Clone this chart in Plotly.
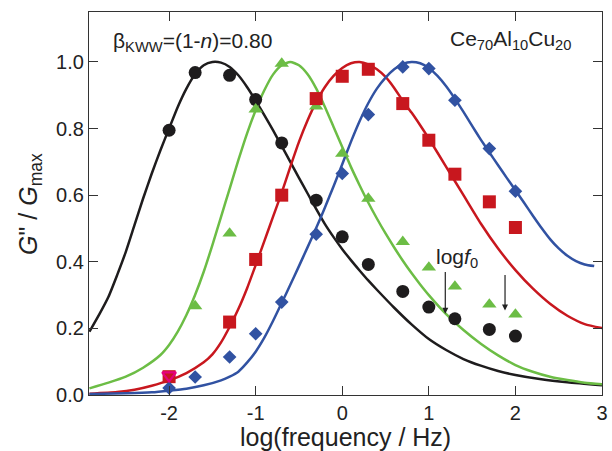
import numpy as np
import plotly.graph_objects as go

# ---- measured data (log10 frequency / Hz) ----
freq_all = [0.01, 0.02, 0.05, 0.1, 0.2, 0.5, 1, 2, 5, 10, 20, 50, 100]
black_y = [0.795, 0.968, 0.960, 0.887, 0.757, 0.585, 0.475, 0.392, 0.311, 0.264, 0.229, 0.197, 0.177]

freq_green = [0.02, 0.05, 0.1, 0.2, 0.5, 1, 2, 5, 10, 20, 50, 100]
green_y = [0.267, 0.485, 0.858, 0.995, 0.867, 0.725, 0.590, 0.460, 0.383, 0.326, 0.272, 0.242]

freq_red = [0.01, 0.05, 0.1, 0.2, 0.5, 1, 2, 5, 10, 20, 50, 100]
red_y = [0.055, 0.219, 0.407, 0.600, 0.890, 0.957, 0.978, 0.875, 0.765, 0.663, 0.580, 0.503]

freq_blue = freq_all
blue_y = [0.021, 0.054, 0.114, 0.184, 0.279, 0.483, 0.665, 0.842, 0.985, 0.980, 0.885, 0.740, 0.612]

freq_open = [0.01]
open_y = [0.059]

# ---- fitted curves ----
black_cx = [-2.92, -2.8, -2.7, -2.6, -2.5, -2.4, -2.3, -2.2, -2.1, -2.0, -1.9, -1.8, -1.7, -1.6,
            -1.5, -1.4, -1.3, -1.2, -1.1, -1.0, -0.9, -0.8, -0.7, -0.6, -0.5, -0.4, -0.3, -0.2,
            -0.1, 0.0, 0.1, 0.2, 0.3, 0.4, 0.6, 0.8, 1.0, 1.2, 1.4, 1.6, 1.8, 2.0, 2.3, 2.6, 3.0]
black_cy = [0.190, 0.245, 0.295, 0.360, 0.430, 0.510, 0.590, 0.665, 0.735, 0.800, 0.865, 0.920,
            0.963, 0.990, 1.000, 0.998, 0.985, 0.960, 0.925, 0.884, 0.840, 0.795, 0.748, 0.700,
            0.652, 0.605, 0.558, 0.513, 0.474, 0.438, 0.405, 0.374, 0.344, 0.316, 0.262, 0.212,
            0.168, 0.135, 0.108, 0.088, 0.072, 0.060, 0.047, 0.038, 0.029]

green_cx = [-2.92, -2.7, -2.5, -2.3, -2.1, -2.0, -1.9, -1.8, -1.7, -1.6, -1.5, -1.4, -1.3, -1.2,
            -1.1, -1.0, -0.9, -0.8, -0.7, -0.6, -0.5, -0.4, -0.3, -0.2, -0.1, 0.0, 0.1, 0.2, 0.3,
            0.4, 0.5, 0.6, 0.7, 0.8, 0.9, 1.0, 1.2, 1.4, 1.6, 1.8, 2.0, 2.2, 2.4, 2.6, 2.8, 3.0]
green_cy = [0.020, 0.037, 0.055, 0.082, 0.120, 0.150, 0.190, 0.240, 0.300, 0.370, 0.450, 0.535,
            0.620, 0.705, 0.785, 0.855, 0.915, 0.962, 0.990, 1.000, 0.990, 0.963, 0.920, 0.865,
            0.805, 0.745, 0.685, 0.630, 0.578, 0.530, 0.485, 0.443, 0.403, 0.366, 0.332, 0.300,
            0.243, 0.195, 0.154, 0.119, 0.090, 0.070, 0.055, 0.045, 0.037, 0.032]

red_cx = [-2.92, -2.6, -2.4, -2.2, -2.0, -1.8, -1.6, -1.5, -1.4, -1.3, -1.2, -1.1, -1.0, -0.9,
          -0.8, -0.7, -0.6, -0.5, -0.4, -0.3, -0.2, -0.1, 0.0, 0.1, 0.2, 0.3, 0.4, 0.5, 0.6, 0.7,
          0.8, 0.9, 1.0, 1.2, 1.4, 1.6, 1.8, 2.0, 2.2, 2.4, 2.6, 2.8, 3.0]
red_cy = [0.004, 0.009, 0.016, 0.028, 0.044, 0.066, 0.098, 0.122, 0.158, 0.205, 0.258, 0.320,
          0.390, 0.462, 0.535, 0.607, 0.685, 0.760, 0.825, 0.880, 0.925, 0.958, 0.982, 0.996,
          1.000, 0.993, 0.978, 0.955, 0.922, 0.883, 0.848, 0.810, 0.770, 0.685, 0.600, 0.515,
          0.440, 0.375, 0.320, 0.274, 0.238, 0.213, 0.201]

blue_cx = [-2.92, -2.5, -2.2, -2.0, -1.8, -1.6, -1.4, -1.3, -1.2, -1.1, -1.0, -0.9, -0.8, -0.7,
           -0.6, -0.5, -0.4, -0.3, -0.2, -0.1, 0.0, 0.1, 0.2, 0.3, 0.4, 0.5, 0.6, 0.7, 0.8, 0.9,
           1.0, 1.1, 1.2, 1.3, 1.4, 1.5, 1.6, 1.7, 1.8, 1.9, 2.0, 2.1, 2.2, 2.3, 2.4, 2.5, 2.6,
           2.7, 2.8, 2.91]
blue_cy = [0.003, 0.005, 0.008, 0.013, 0.019, 0.029, 0.044, 0.055, 0.070, 0.097, 0.130, 0.172,
           0.222, 0.276, 0.331, 0.387, 0.444, 0.502, 0.563, 0.627, 0.693, 0.760, 0.822, 0.876,
           0.920, 0.953, 0.978, 0.994, 1.000, 0.996, 0.982, 0.958, 0.927, 0.890, 0.850, 0.808,
           0.767, 0.728, 0.690, 0.652, 0.615, 0.577, 0.539, 0.502, 0.468, 0.440, 0.418, 0.402,
           0.392, 0.387]

# ---- style ----
C_BLACK = "#1e1c1d"
C_GREEN = "#6cbd45"
C_RED = "#c8171e"
C_BLUE = "#3152a2"
C_MAG = "#e4007d"
FONT = "Liberation Sans, Arial, Helvetica, sans-serif"

fig = go.Figure()

for cx, cy, col in [(black_cx, black_cy, C_BLACK), (green_cx, green_cy, C_GREEN),
                    (red_cx, red_cy, C_RED), (blue_cx, blue_cy, C_BLUE)]:
    fig.add_trace(go.Scatter(x=cx, y=cy, mode="lines",
                             line=dict(color=col, width=2.5, shape="spline", smoothing=0.6),
                             showlegend=False, hoverinfo="skip"))

fig.add_trace(go.Scatter(x=np.log10(freq_all), y=black_y, mode="markers",
                         marker=dict(symbol="circle", size=13, color=C_BLACK), showlegend=False))
fig.add_trace(go.Scatter(x=np.log10(freq_green), y=green_y, mode="markers",
                         marker=dict(symbol="triangle-up", size=12.5, color=C_GREEN), showlegend=False))
fig.add_trace(go.Scatter(x=np.log10(freq_red), y=red_y, mode="markers",
                         marker=dict(symbol="square", size=13, color=C_RED), showlegend=False))
fig.add_trace(go.Scatter(x=np.log10(freq_blue), y=blue_y, mode="markers",
                         marker=dict(symbol="diamond", size=10.5, color=C_BLUE), showlegend=False))
fig.add_trace(go.Scatter(x=np.log10(freq_open), y=open_y, mode="markers",
                         marker=dict(symbol="triangle-down-open", size=12, color=C_MAG,
                                     line=dict(width=2.2, color=C_MAG)), showlegend=False))

axis_common = dict(showline=True, linecolor="#333333", linewidth=1.3, mirror="ticks",
                   ticks="inside", ticklen=9, tickwidth=1.3, tickcolor="#333333",
                   showgrid=False, zeroline=False, automargin=False,
                   tickfont=dict(family=FONT, size=20, color="#222222"))

fig.update_xaxes(range=[-2.925, 3.0], tickmode="array",
                 tickvals=[-2, -1, 0, 1, 2, 3], ticktext=["-2", "-1", "0", "1", "2", "3"],
                 **axis_common)
fig.update_yaxes(range=[0, 1.15], tickmode="array",
                 tickvals=[0, 0.2, 0.4, 0.6, 0.8, 1.0],
                 ticktext=["0.0", "0.2", "0.4", "0.6", "0.8", "1.0"],
                 **axis_common)

annots = [
    dict(x=-2.67, y=1.06, xref="x", yref="y", xanchor="left", yanchor="middle",
         text="β<sub>KWW</sub>=(1-<i>n</i>)=0.80", showarrow=False,
         font=dict(family=FONT, size=21, color="#222222")),
    dict(x=2.66, y=1.065, xref="x", yref="y", xanchor="right", yanchor="middle",
         text="Ce<sub>70</sub>Al<sub>10</sub>Cu<sub>20</sub>", showarrow=False,
         font=dict(family=FONT, size=21, color="#222222")),
    dict(x=1.06, y=0.41, xref="x", yref="y", xanchor="left", yanchor="middle",
         text="log<i>f</i><sub>0</sub>", showarrow=False,
         font=dict(family=FONT, size=21, color="#222222")),
    dict(x=1.19, y=0.244, ax=1.19, ay=0.374, xref="x", yref="y", axref="x", ayref="y",
         text="", showarrow=True, arrowhead=2, arrowsize=1, arrowwidth=1.2, arrowcolor="#222222"),
    dict(x=1.88, y=0.254, ax=1.88, ay=0.365, xref="x", yref="y", axref="x", ayref="y",
         text="", showarrow=True, arrowhead=2, arrowsize=1, arrowwidth=1.2, arrowcolor="#222222"),
    dict(x=0.5, y=-0.11, xref="paper", yref="paper", xanchor="center", yanchor="middle",
         text="log(frequency / Hz)", showarrow=False,
         font=dict(family=FONT, size=25, color="#222222")),
    dict(x=-0.116, y=0.5, xref="paper", yref="paper", xanchor="center", yanchor="middle",
         text="<i>G</i>\" / <i>G</i><sub>max</sub>", textangle=-90, showarrow=False,
         font=dict(family=FONT, size=25, color="#222222")),
]
fig.update_layout(annotations=annots)

fig.update_layout(width=612, height=451, margin=dict(l=89, r=10, t=12, b=56),
                  paper_bgcolor="white", plot_bgcolor="white", showlegend=False)

fig.write_html("out.html")
